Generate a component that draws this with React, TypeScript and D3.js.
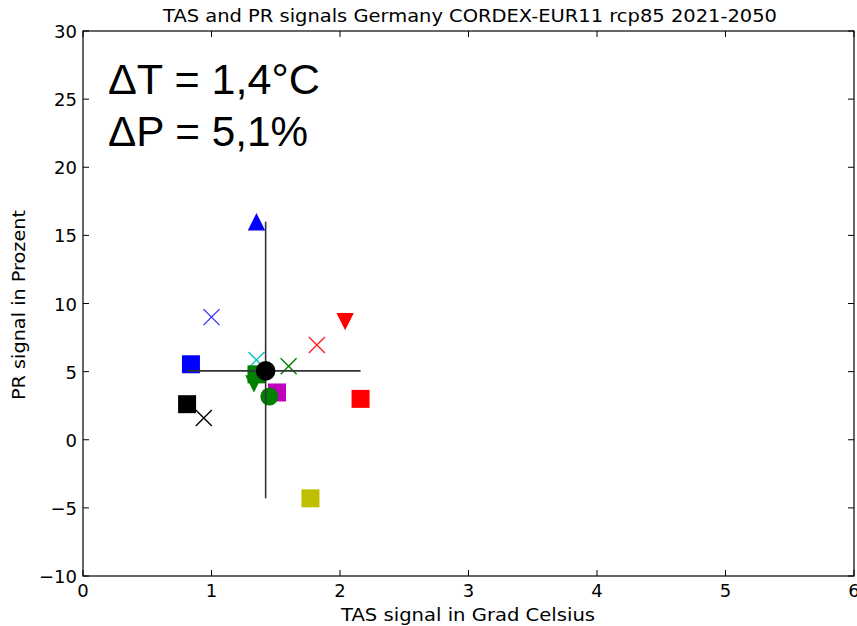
import React from "react";
import * as d3 from "d3";

// Model signals: temperature change (°C) and precipitation change (%)
const models = ["m1", "m2", "m3", "m4", "m5", "m6", "m7", "m8", "m9", "m10", "m11", "m12", "m13", "m14", "m15"];
const tasSignal = [1.35, 1.0, 0.84, 0.81, 0.94, 1.35, 1.35, 1.33, 1.6, 1.82, 2.04, 2.16, 1.51, 1.45, 1.77];
const prSignal = [16.0, 9.0, 5.54, 2.61, 1.59, 5.86, 4.8, 4.1, 5.4, 6.96, 8.67, 3.0, 3.47, 3.17, -4.3];
const markerShapes = ["triangleUp", "x", "square", "square", "x", "x", "square", "triangleDown", "x", "x", "triangleDown", "square", "square", "circle", "square"];
const markerColors = ["#0000ff", "#3333ff", "#0000ff", "#000000", "#000000", "#00bfbf", "#008000", "#008000", "#008000", "#ff2020", "#ff0000", "#ff0000", "#bf00bf", "#008000", "#bfbf00"];

const xTicks = [0, 1, 2, 3, 4, 5, 6];
const yTicks = [-10, -5, 0, 5, 10, 15, 20, 25, 30];

const W = 857;
const H = 626;
const margin = { left: 83, right: 3, top: 31, bottom: 50 };

function Marker({ shape, cx, cy, color }: { shape: string; cx: number; cy: number; color: string }) {
  const s = 9;
  if (shape === "square") {
    return <rect x={cx - s} y={cy - s} width={2 * s} height={2 * s} fill={color} />;
  }
  if (shape === "circle") {
    return <circle cx={cx} cy={cy} r={9} fill={color} />;
  }
  const t = 8.7;
  if (shape === "triangleUp") {
    return <path d={`M${cx},${cy - t} L${cx + t},${cy + t} L${cx - t},${cy + t} Z`} fill={color} />;
  }
  if (shape === "triangleDown") {
    return <path d={`M${cx},${cy + t} L${cx + t},${cy - t} L${cx - t},${cy - t} Z`} fill={color} />;
  }
  const k = 8;
  return (
    <path
      d={`M${cx - k},${cy - k} L${cx + k},${cy + k} M${cx - k},${cy + k} L${cx + k},${cy - k}`}
      stroke={color}
      strokeWidth={1.4}
      fill="none"
    />
  );
}

export default function App() {
  const x = d3.scaleLinear().domain([0, 6]).range([margin.left, W - margin.right]);
  const y = d3.scaleLinear().domain([-10, 30]).range([H - margin.bottom, margin.top]);

  const meanT = d3.mean(tasSignal) as number;
  const meanP = d3.mean(prSignal) as number;
  const [minT, maxT] = d3.extent(tasSignal) as [number, number];
  const [minP, maxP] = d3.extent(prSignal) as [number, number];
  const fmt = (v: number) => v.toFixed(1).replace(".", ",");

  const x0 = x(0), x1 = x(6), y0 = y(-10), y1 = y(30);
  const tickFont = "DejaVu Sans, sans-serif";

  return (
    <svg width={W} height={H} style={{ position: "absolute", left: 0, top: 0, background: "#fff" }}>
      <rect width={W} height={H} fill="#fff" />
      <text x={470} y={22} textAnchor="middle" fontFamily={tickFont} fontSize={17}
        textLength={614} lengthAdjust="spacingAndGlyphs">
        TAS and PR signals Germany CORDEX-EUR11 rcp85 2021-2050
      </text>

      {/* markers */}
      {models.map((m, i) => (
        <Marker key={m} shape={markerShapes[i]} cx={x(tasSignal[i])} cy={y(prSignal[i])} color={markerColors[i]} />
      ))}

      {/* ensemble range cross and mean */}
      <line x1={x(minT)} x2={x(maxT)} y1={y(meanP)} y2={y(meanP)} stroke="#333" strokeWidth={1.6} />
      <line x1={x(meanT)} x2={x(meanT)} y1={y(maxP)} y2={y(minP)} stroke="#333" strokeWidth={1.6} />
      <circle cx={x(meanT)} cy={y(meanP)} r={9.8} fill="#000" />

      {/* frame */}
      <rect x={x0} y={y1} width={x1 - x0} height={y0 - y1} fill="none" stroke="#000" strokeWidth={1.2} />

      {xTicks.map((t) => (
        <g key={"x" + t}>
          <line x1={x(t)} x2={x(t)} y1={y0} y2={y0 - 6} stroke="#000" />
          <line x1={x(t)} x2={x(t)} y1={y1} y2={y1 + 6} stroke="#000" />
          <text x={x(t)} y={y0 + 21} textAnchor="middle" fontFamily={tickFont} fontSize={18}>{t}</text>
        </g>
      ))}
      {yTicks.map((t) => (
        <g key={"y" + t}>
          <line x1={x0} x2={x0 + 6} y1={y(t)} y2={y(t)} stroke="#000" />
          <line x1={x1} x2={x1 - 6} y1={y(t)} y2={y(t)} stroke="#000" />
          <text x={x0 - 6} y={y(t) + 7} textAnchor="end" fontFamily={tickFont} fontSize={18}>
            {t < 0 ? "\u2212" + Math.abs(t) : t}
          </text>
        </g>
      ))}

      <text x={468} y={621} textAnchor="middle" fontFamily={tickFont} fontSize={18}
        textLength={254} lengthAdjust="spacingAndGlyphs">
        TAS signal in Grad Celsius
      </text>
      <text transform={`translate(25,305) rotate(-90)`} textAnchor="middle" fontFamily={tickFont} fontSize={17}
        textLength={190} lengthAdjust="spacingAndGlyphs">
        PR signal in Prozent
      </text>

      <text x={108} y={94} fontFamily="Liberation Sans, Arial, sans-serif" fontSize={42}
        textLength={212} lengthAdjust="spacingAndGlyphs">
        {`ΔT = ${fmt(meanT)}°C`}
      </text>
      <text x={108} y={146} fontFamily="Liberation Sans, Arial, sans-serif" fontSize={42}
        textLength={200} lengthAdjust="spacingAndGlyphs">
        {`ΔP = ${fmt(meanP)}%`}
      </text>
    </svg>
  );
}
